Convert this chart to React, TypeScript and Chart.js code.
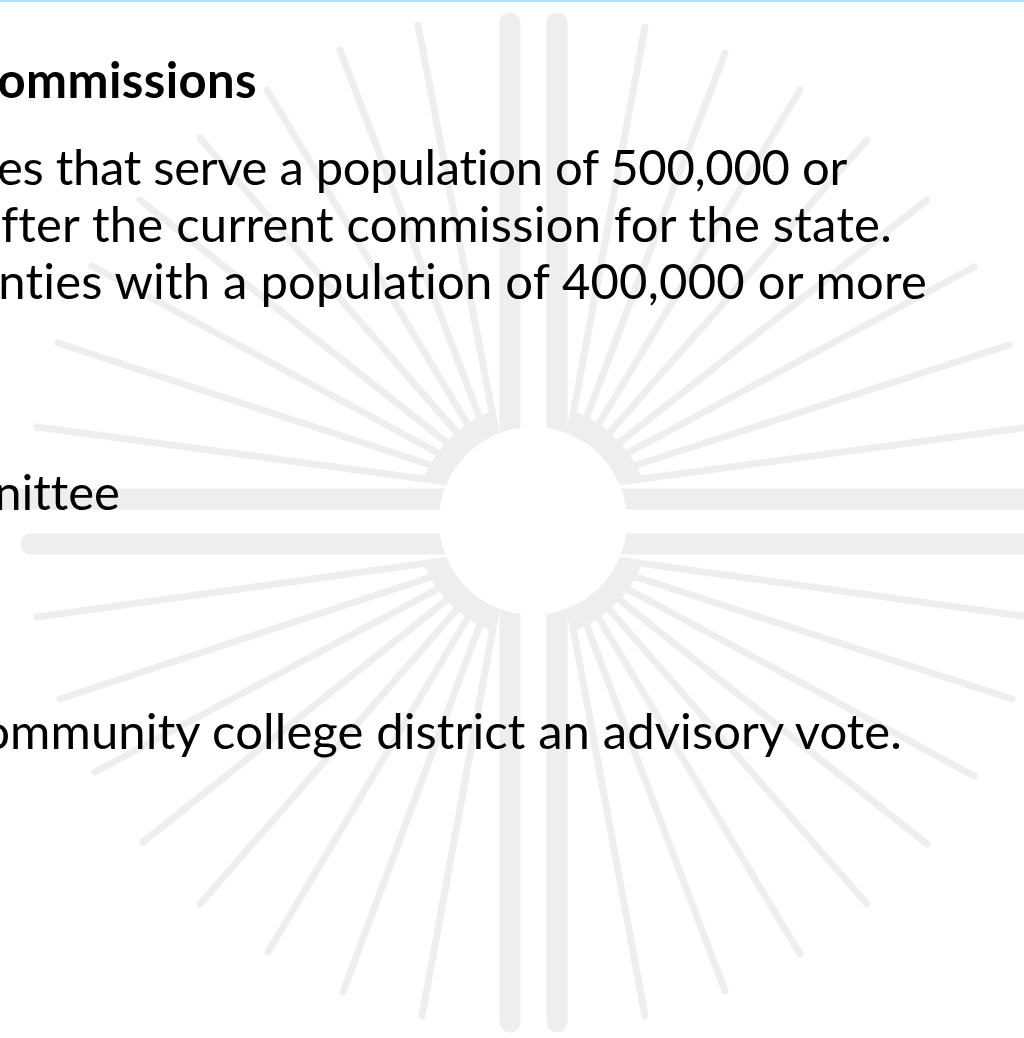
import React, { useEffect, useRef } from "react";
import { Chart, registerables } from "chart.js";

Chart.register(...registerables);

// ---- geometry of the sun symbol ----
const symbolCenter = { x: 533, y: 521 };
const centerDiscRadius = 94;
const bandRadius = 117;

// focal point offset of each quadrant's ray fan (lower-right, upper-right, upper-left, lower-left)
const focalOffsets = [
  { x: 26, y: 31 },
  { x: 26, y: -31 },
  { x: -26, y: -31 },
  { x: -26, y: 31 },
];

// ray end points, relative to the symbol centre
const raysLowerRight = [
  [496, 96], [479, 178], [441, 255], [394, 323], [334, 383], [267, 433], [192, 470], [112, 495],
];
const raysUpperRight = [
  [496, -94], [476, -176], [441, -254], [394, -321], [334, -381], [267, -431], [192, -468], [112, -494],
];
const raysUpperLeft = [
  [-496, -94], [-475, -178], [-441, -255], [-393, -321], [-333, -383], [-266, -431], [-193, -471], [-115, -496],
];
const raysLowerLeft = [
  [-496, 96], [-473, 178], [-438, 251], [-390, 321], [-333, 383], [-265, 431], [-190, 471], [-111, 495],
];
const rayQuadrants = [raysLowerRight, raysUpperRight, raysUpperLeft, raysLowerLeft];

// the four long arms: [x1, y1, x2, y2]
const armSegments = [
  [510, 23, 510, 1022],
  [557, 23, 557, 1022],
  [-30, 499, 1060, 499],
  [31, 544, 1060, 544],
];

// ---- slide text ----
const textLines = [
  { text: "ommissions", right: 257, baseline: 98, bold: true, spacing: 0.4 },
  { text: "es that serve a population of 500,000 or", right: 847, baseline: 185, bold: false, spacing: -0.3 },
  { text: "fter the current commission for the state.", right: 892, baseline: 242, bold: false, spacing: 0.24 },
  { text: "nties with a population of 400,000 or more", right: 927, baseline: 299, bold: false, spacing: 0.2 },
  { text: "nittee", right: 120, baseline: 510, bold: false, spacing: 0 },
  { text: "ommunity college district an advisory vote.", right: 902, baseline: 749, bold: false, spacing: 0.1 },
];

const GRAY = "#eeeeee";
const FONT_SIZE = 49;

function bandPoint(f: { x: number; y: number }, end: { x: number; y: number }) {
  const dx = end.x - f.x;
  const dy = end.y - f.y;
  const len = Math.hypot(dx, dy);
  const ux = dx / len;
  const uy = dy / len;
  const Dx = f.x - symbolCenter.x;
  const Dy = f.y - symbolCenter.y;
  const b = Dx * ux + Dy * uy;
  const c = Dx * Dx + Dy * Dy - bandRadius * bandRadius;
  const t = -b + Math.sqrt(b * b - c);
  return { x: f.x + ux * t, y: f.y + uy * t };
}

export default function App() {
  const canvasRef = useRef<HTMLCanvasElement | null>(null);

  useEffect(() => {
    if (!canvasRef.current) return;
    const datasets: any[] = [];

    // white disc in the middle (first dataset is drawn on top)
    datasets.push({
      data: [{ x: symbolCenter.x, y: symbolCenter.y }],
      showLine: false,
      pointRadius: centerDiscRadius,
      pointHoverRadius: centerDiscRadius,
      pointBackgroundColor: "#ffffff",
      pointBorderWidth: 0,
      borderWidth: 0,
    });

    rayQuadrants.forEach((rays, q) => {
      const f = { x: symbolCenter.x + focalOffsets[q].x, y: symbolCenter.y + focalOffsets[q].y };
      const ends = rays.map(([rx, ry]) => ({ x: symbolCenter.x + rx, y: symbolCenter.y + ry }));
      // solid fan near the disc
      datasets.push({
        data: [f, ...ends.map((e) => bandPoint(f, e)), f],
        showLine: true,
        fill: "shape",
        backgroundColor: GRAY,
        borderColor: GRAY,
        borderWidth: 1,
        pointRadius: 0,
        tension: 0,
      });
      ends.forEach((e) => {
        datasets.push({
          data: [f, e],
          showLine: true,
          fill: false,
          borderColor: GRAY,
          borderWidth: 7,
          borderCapStyle: "round",
          pointRadius: 0,
          tension: 0,
        });
      });
    });

    armSegments.forEach(([x1, y1, x2, y2]) => {
      datasets.push({
        data: [{ x: x1, y: y1 }, { x: x2, y: y2 }],
        showLine: true,
        fill: false,
        borderColor: GRAY,
        borderWidth: 21,
        borderCapStyle: "round",
        pointRadius: 0,
        tension: 0,
      });
    });

    const chart = new Chart(canvasRef.current, {
      type: "line",
      data: { datasets },
      options: {
        animation: false,
        responsive: false,
        devicePixelRatio: 1,
        events: [],
        layout: { padding: 0, autoPadding: false },
        scales: {
          x: { type: "linear", min: 0, max: 1024, display: false },
          y: { type: "linear", min: 0, max: 1038, reverse: true, display: false },
        },
        plugins: {
          legend: { display: false },
          tooltip: { enabled: false },
          title: { display: false },
        },
        elements: { line: { borderJoinStyle: "round" } },
      } as any,
    });
    return () => chart.destroy();
  }, []);

  return (
    <div
      style={{
        position: "fixed",
        left: 0,
        top: 0,
        width: 1024,
        height: 1038,
        overflow: "hidden",
        background: "#ffffff",
      }}
    >
      <canvas
        ref={canvasRef}
        width={1024}
        height={1038}
        style={{ position: "absolute", left: 0, top: 0, width: 1024, height: 1038 }}
      />
      <div
        style={{
          position: "absolute",
          left: 0,
          top: 0,
          width: 1024,
          height: 2,
          background: "#a6e6f6",
        }}
      />
      {textLines.map((l, i) => (
        <div
          key={i}
          style={{
            position: "absolute",
            right: 1024 - l.right,
            top: l.baseline - FONT_SIZE * 0.887,
            fontFamily: "Lato, 'Open Sans', sans-serif",
            fontSize: FONT_SIZE,
            lineHeight: 1,
            fontWeight: l.bold ? 700 : 400,
            fontVariantLigatures: "none",
            letterSpacing: l.spacing,
            color: "#000000",
            whiteSpace: "nowrap",
          }}
        >
          {l.text}
        </div>
      ))}
    </div>
  );
}
